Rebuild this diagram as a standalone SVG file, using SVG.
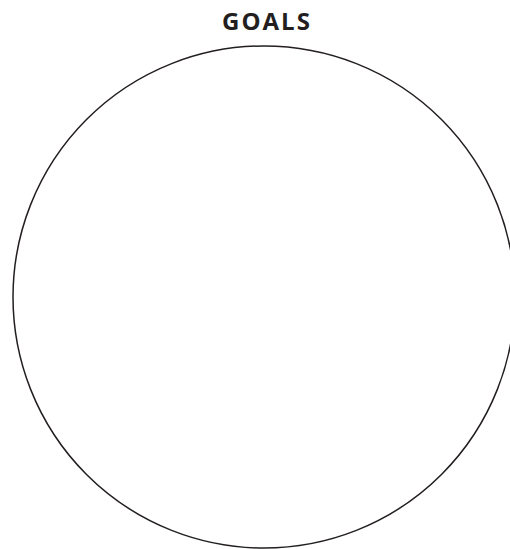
<svg xmlns="http://www.w3.org/2000/svg" width="510" height="549" viewBox="0 0 510 549">
<style>
.title{font-family:"Open Sans","Lato","Liberation Sans",sans-serif;font-weight:bold;font-size:24px;letter-spacing:2px;fill:#231f20;text-anchor:middle}
.ring{fill:none;stroke:#231f20;stroke-width:1.5}
</style>
<rect width="510" height="549" fill="#ffffff"/>
<g id="goals">
<text class="title" x="267" y="30">GOALS</text>
<circle class="ring" cx="264" cy="297" r="251"/>
</g>
</svg>
